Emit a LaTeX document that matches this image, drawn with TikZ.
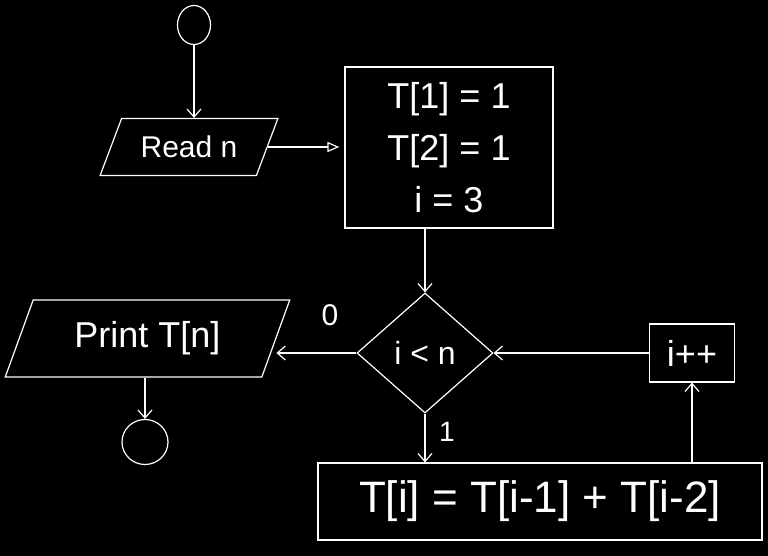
\documentclass[tikz,border=0pt]{standalone}
\usepackage{fontspec}
\setmainfont{Liberation Sans}
\usetikzlibrary{shapes.geometric,arrows.meta}
\newcommand{\fsz}[1]{\fontsize{#1}{#1}\selectfont}
\begin{document}
\begin{tikzpicture}[x=1pt,y=-1pt,line width=1.2pt,
  base/.style={draw=white,text=white,inner sep=0pt},
  term/.style={base,ellipse},
  io/.style={base,trapezium,trapezium stretches=true},
  box/.style={base,rectangle},
  decision/.style={base,diamond},
  lbl/.style={text=white,inner sep=0pt},
  arr/.style={draw=white,-{Straight Barb[length=8pt,width=14pt]}},
  tri/.style={draw=white,-{Triangle[open,length=12pt,width=10pt]}}]
\fill[black] (0,0) rectangle (768,556);
\useasboundingbox (0,0) rectangle (768,556);

\node[term,minimum width=33,minimum height=39] (start) at (194,25) {};
\node[io,minimum width=178,minimum height=57,trapezium left angle=55,trapezium right angle=125,font=\fsz{30}] (read) at (189,147) {Read n};
\node[box,minimum width=208,minimum height=161,align=center,font=\fontsize{36}{52}\selectfont] (tbox) at (449,147.5) {T[1] = 1\\T[2] = 1\\i = 3};
\node[decision,minimum width=136,minimum height=120,font=\fsz{32}] (dec) at (425,353) {i < n};
\node[io,minimum width=285,minimum height=77,trapezium left angle=62,trapezium right angle=118,font=\fsz{36}] (print) at (147.5,338.5) {Print T[n]};
\node[term,minimum width=46,minimum height=45] (end) at (145,442) {};
\node[box,minimum width=444,minimum height=77,font=\fsz{44}] (bbox) at (540,501.5) {T[i] = T[i-1] + T[i-2]};
\node[box,minimum width=85,minimum height=58,font=\fsz{36}] (inc) at (692,353) {i++};
\node[lbl,font=\fsz{30}] (l0) at (330,315) {0};
\node[lbl,font=\fsz{28}] (l1) at (447,432) {1};

\draw[arr] (start.south) -- (start.south |- read.north);
\draw[tri] (read.east) -- ([xshift=-5pt]tbox.west |- read.east);
\draw[arr] (tbox.south -| dec.north) -- (dec.north);
\draw[arr] (dec.west) -- (dec.west -| print.east);
\draw[arr] (print.south -| end.north) -- (end.north);
\draw[arr] (dec.south) -- (dec.south |- bbox.north);
\draw[arr] (bbox.north -| inc.south) -- (inc.south);
\draw[arr] (inc.west) -- (dec.east);
\end{tikzpicture}
\end{document}
